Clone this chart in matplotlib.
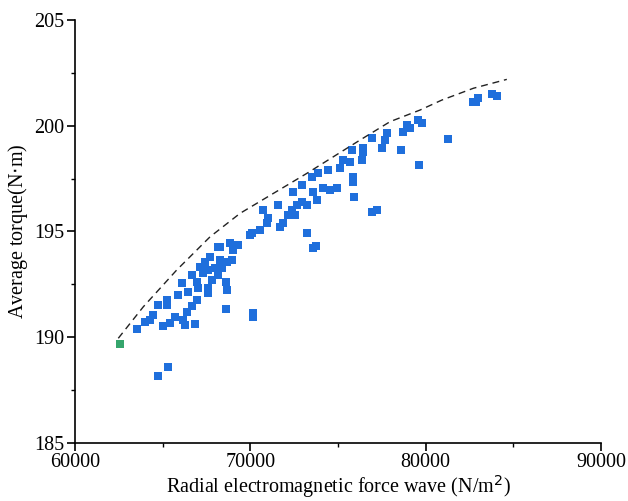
"""
scatter of average torque vs radial electromagnetic force wave
"""

import numpy as np
import matplotlib.pyplot as plt
from matplotlib.ticker import MultipleLocator

plt.rcParams['font.family'] = ['Liberation Serif', 'DejaVu Serif']

# blue samples
force = [63554, 63994, 64279, 64433, 64718, 65232, 65232, 65038, 65420, 64718,
         65289, 65893, 66122, 65705, 66179, 66276, 66846, 66373, 66658, 66943,
         66658, 66943, 67131, 67320, 67605, 67702, 67987, 68272, 68272, 68654,
         68940, 69031, 69316, 67605, 67605, 68615, 68654, 68615, 70138, 70138,
         69984, 70554, 70937, 70743, 71028, 71599, 71695, 71884, 72169, 72363,
         72551, 72648, 72933, 73218, 72454, 72933, 73504, 73595, 73789, 73880,
         74165, 74451, 74548, 74930, 75118, 75306, 75689, 73218, 73595, 73749,
         75877, 75877, 75934, 75780, 76351, 76448, 76448, 76927, 77498, 77685,
         77783, 77213, 76945, 78582, 78730, 78924, 79112, 79585, 79780, 79643,
         81298, 82724, 83009, 82878, 83772, 84057, 68158, 68843, 70081, 67417,
         67816, 68158, 68386, 67017, 66447]
torque = [190.36, 190.72, 190.80, 191.04, 191.51, 191.75, 191.51, 190.52, 190.65, 188.16,
          188.59, 191.98, 192.54, 190.96, 190.80, 190.56, 190.61, 191.19, 191.46, 191.75,
          192.93, 192.61, 193.32, 193.01, 193.17, 193.80, 193.25, 194.27, 193.64, 193.56,
          193.64, 194.11, 194.35, 192.30, 192.06, 192.61, 192.22, 191.32, 190.96, 191.13,
          194.82, 195.06, 195.38, 196.01, 195.61, 196.24, 195.22, 195.38, 195.77, 196.01,
          195.77, 196.24, 196.40, 196.24, 196.87, 197.19, 197.58, 196.87, 196.48, 197.74,
          197.03, 197.90, 196.95, 197.03, 197.98, 198.37, 198.29, 194.90, 194.19, 194.30,
          197.58, 197.35, 196.64, 198.85, 198.37, 198.93, 198.75, 199.40, 198.93, 199.32,
          199.64, 196.01, 195.91, 198.85, 199.71, 200.03, 199.87, 200.27, 200.11, 198.14,
          199.35, 201.13, 201.29, 201.12, 201.50, 201.40, 194.27, 194.45, 194.90, 193.55,
          192.69, 192.93, 193.26, 192.32, 192.13]

# green sample
best_force = [62567]
best_torque = [189.67]

# dashed boundary
curve_force = [62470, 63897, 65802, 67702, 69413, 73218, 76259, 77971, 79682, 80920, 82723, 84628]
curve_torque = [189.94, 191.43, 193.17, 194.74, 195.85, 197.74, 199.32, 200.19, 200.74, 201.21, 201.77, 202.19]

fig = plt.figure(figsize=(6.28, 5.01), dpi=100)
ax = fig.add_axes([0.1194, 0.1164, 0.8376, 0.8437])

ax.plot(curve_force, curve_torque, color='#222222', linestyle=(0, (5, 3.5)), linewidth=1.0, zorder=3)
ax.plot(force, torque, 's', color='#1f6fdc', markersize=6.4, markeredgewidth=0, zorder=2)
ax.plot(best_force, best_torque, 's', color='#35a56c', markersize=6.4, markeredgewidth=0, zorder=4)

ax.set_xlim(60000, 90000)
ax.set_ylim(185, 205)
ax.xaxis.set_major_locator(MultipleLocator(10000))
ax.xaxis.set_minor_locator(MultipleLocator(5000))
ax.yaxis.set_major_locator(MultipleLocator(5))
ax.yaxis.set_minor_locator(MultipleLocator(2.5))

for s in ['top', 'right']:
    ax.spines[s].set_visible(False)
for s in ['left', 'bottom']:
    ax.spines[s].set_linewidth(1.2)

ax.tick_params(which='major', direction='out', length=5.5, width=1.2, labelsize=14.5, pad=2)
ax.tick_params(which='minor', direction='out', length=3, width=1.0)

ax.set_xlabel('Radial electromagnetic force wave (N/m$^2$)', fontsize=14.5, labelpad=0.5)
ax.set_ylabel('Average torque(N$\\cdot$m)', fontsize=14.5, labelpad=3)

plt.savefig('out.png', dpi=100)
